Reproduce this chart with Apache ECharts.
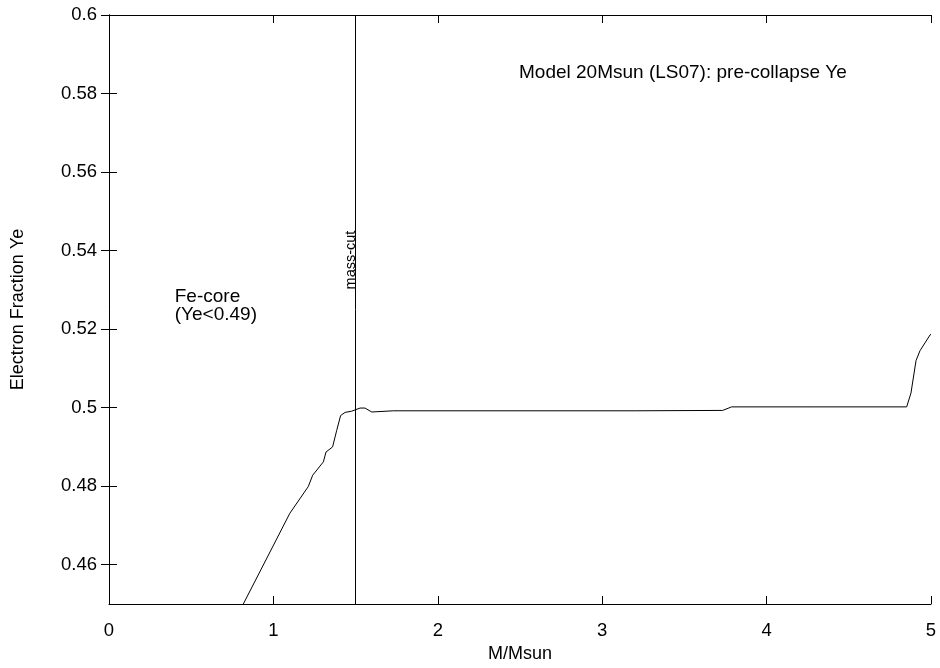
<!DOCTYPE html>
<html>
<head>
<meta charset="utf-8">
<script src="https://cdn.jsdelivr.net/npm/echarts@6/dist/echarts.min.js"></script>
<style>html,body{margin:0;padding:0;background:#fff}#c{width:940px;height:668px}</style>
</head>
<body>
<div id="c"></div>
<script>
// Data
const massValues = [0.817, 1.10, 1.212, 1.239, 1.304, 1.320, 1.360, 1.385, 1.409, 1.436, 1.476, 1.527, 1.557, 1.598, 1.73, 2.5, 3.2, 3.733, 3.787, 4.3, 4.852, 4.878, 4.909, 4.933, 4.994, 5.0];
const yeValues   = [0.450, 0.4731, 0.4799, 0.4828, 0.4862, 0.4887, 0.4900, 0.4942, 0.4980, 0.4988, 0.4991, 0.4999, 0.4999, 0.4989, 0.4992, 0.4992, 0.4992, 0.4993, 0.5002, 0.5002, 0.5002, 0.5037, 0.5120, 0.5145, 0.5185, 0.5187];
const xTicks = [0, 1, 2, 3, 4, 5];
const yTicks = [0.46, 0.48, 0.5, 0.52, 0.54, 0.56, 0.58, 0.6];
const massCut = 1.5;
const titleText = 'Model 20Msun (LS07): pre-collapse Ye';
const coreText = 'Fe-core\n(Ye<0.49)';
const cutText = 'mass-cut';

const font = 'Liberation Sans, Arial, sans-serif';
const chart = echarts.init(document.getElementById('c'));
const lineData = massValues.map((m, i) => [m, yeValues[i]]);
const tickX = {show: true, inside: true, length: 8, customValues: xTicks, lineStyle: {color: '#000', width: 1}};
const tickY = {show: true, inside: true, length: 8, customValues: yTicks, lineStyle: {color: '#000', width: 1}};
const axLine = {show: true, lineStyle: {color: '#000', width: 1}};

chart.setOption({
  animation: false,
  backgroundColor: '#fff',
  grid: {left: 109, right: 9, top: 15, bottom: 61, containLabel: false},
  xAxis: [{
    type: 'value', min: 0, max: 5, interval: 1,
    name: 'M/Msun', nameLocation: 'middle', nameGap: 41,
    nameTextStyle: {fontFamily: font, fontSize: 18, color: '#000'},
    axisLine: axLine, axisTick: tickX, splitLine: {show: false},
    axisLabel: {fontFamily: font, fontSize: 18.5, color: '#000', margin: 17, customValues: xTicks}
  }, {
    type: 'value', min: 0, max: 5, interval: 1, position: 'top',
    axisLine: axLine, axisTick: tickX, axisLabel: {show: false}, splitLine: {show: false}
  }],
  yAxis: [{
    type: 'value', min: 0.45, max: 0.6,
    name: 'Electron Fraction Ye', nameLocation: 'middle', nameGap: 82, nameRotate: 90,
    nameTextStyle: {fontFamily: font, fontSize: 18, color: '#000'},
    axisLine: axLine, axisTick: tickY, splitLine: {show: false},
    axisLabel: {fontFamily: font, fontSize: 18.5, color: '#000', margin: 12, customValues: yTicks,
      formatter: v => String(Math.round(v * 100) / 100)}
  }, {
    type: 'value', min: 0.45, max: 0.6, position: 'right',
    axisLine: axLine, axisTick: tickY, axisLabel: {show: false}, splitLine: {show: false}
  }],
  series: [{
    type: 'line', data: lineData, xAxisIndex: 0, yAxisIndex: 0,
    showSymbol: false, symbol: 'none', smooth: false,
    lineStyle: {color: '#000', width: 1},
    clip: true,
    markLine: {
      silent: true, symbol: 'none', animation: false,
      lineStyle: {color: '#000', width: 1, type: 'solid'},
      label: {show: false},
      data: [{xAxis: massCut}]
    },
    markPoint: {
      silent: true, symbol: 'circle', symbolSize: 0, animation: false,
      data: [
        {coord: [2.494, 0.5852], label: {show: true, formatter: titleText, position: 'inside', align: 'left', verticalAlign: 'middle', fontFamily: font, fontSize: 19, color: '#000'}},
        {coord: [0.40, 0.5260], label: {show: true, formatter: coreText, position: 'inside', align: 'left', verticalAlign: 'middle', lineHeight: 18, fontFamily: font, fontSize: 19, color: '#000'}},
        {coord: [1.472, 0.5376], label: {show: true, formatter: cutText, position: 'inside', align: 'center', verticalAlign: 'middle', rotate: 90, fontFamily: font, fontSize: 14.5, color: '#000'}}
      ]
    }
  }]
});
</script>
</body>
</html>
